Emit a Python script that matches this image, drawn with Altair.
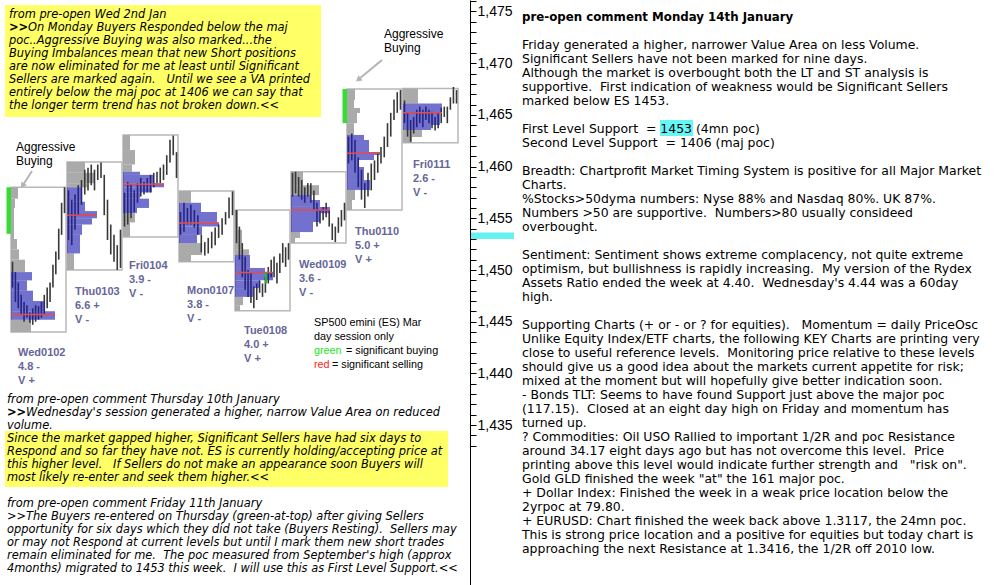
import re
import altair as alt
import pandas as pd

# ---------------- values ----------------
days = ["Wed0102", "Thu0103", "Fri0104", "Mon0107", "Tue0108", "Wed0109", "Thu0110", "Fri0111"]
day_low = [1444.0, 1450.0, 1453.2, 1450.8, 1446.05, 1452.6, 1455.8, 1462.3]
day_high = [1458.0, 1460.45, 1463.05, 1457.65, 1455.8, 1459.5, 1467.5, 1467.55]
poc_price = [1445.7, 1455.3, 1458.3, 1454.55, 1449.75, 1455.8, 1461.3, 1465.2]
va_low = [1445.2, 1451.6, 1455.5, 1452.6, 1447.4, 1453.67, 1457.74, 1463.54]
va_high = [1449.8, 1458.0, 1459.5, 1456.5, 1451.45, 1457.25, 1463.06, 1466.1]
range_txt = ["4.8 -", "6.6 +", "3.9 -", "3.8 -", "4.0 +", "3.6 -", "5.0 +", "2.6 -"]
vol_txt = ["V +", "V -", "V -", "V -", "V +", "V -", "V +", "V -"]

# profile segments per day: (low, high, width in TPO slots)
profiles = [
    [(1456.9, 1458.0, 7), (1456.0, 1456.9, 4), (1453.0, 1456.0, 3), (1452.0, 1453.0, 6), (1451.0, 1452.0, 8),
     (1449.8, 1451.0, 14), (1449.0, 1449.8, 21), (1448.0, 1449.0, 16), (1447.0, 1448.0, 22), (1446.0, 1447.0, 34),
     (1445.2, 1446.0, 44), (1444.0, 1445.2, 20)],
    [(1459.4, 1460.45, 18), (1458.4, 1459.4, 27), (1458.0, 1458.4, 20), (1456.6, 1458.0, 15), (1455.7, 1456.6, 18),
     (1455.0, 1455.7, 30), (1454.4, 1455.0, 25), (1453.4, 1454.4, 15), (1451.6, 1453.4, 13), (1450.0, 1451.6, 7)],
    [(1461.6, 1463.05, 7), (1460.2, 1461.6, 12), (1459.5, 1460.2, 9), (1459.2, 1459.5, 17), (1458.4, 1459.2, 31),
     (1458.0, 1458.4, 41), (1457.5, 1458.0, 29), (1456.9, 1457.5, 17), (1456.0, 1456.9, 26), (1455.5, 1456.0, 14),
     (1454.6, 1455.5, 12), (1453.2, 1454.6, 7)],
    [(1456.5, 1457.65, 12), (1455.6, 1456.5, 22), (1454.6, 1455.6, 38), (1454.2, 1454.6, 40), (1453.4, 1454.2, 23),
     (1452.6, 1453.4, 18), (1451.45, 1452.6, 23), (1450.8, 1451.45, 12)],
    [(1453.9, 1455.8, 3), (1452.0, 1453.9, 7), (1451.45, 1452.0, 14), (1450.2, 1451.45, 15), (1449.8, 1450.2, 30),
     (1449.0, 1449.8, 38), (1448.25, 1449.0, 25), (1447.4, 1448.25, 18), (1446.6, 1447.4, 8), (1446.05, 1446.6, 5)],
    [(1458.2, 1459.5, 12), (1457.25, 1458.2, 28), (1456.77, 1457.25, 20), (1456.1, 1456.77, 29), (1455.5, 1456.1, 39),
     (1454.64, 1455.5, 29), (1453.67, 1454.64, 22), (1453.1, 1453.67, 9), (1452.6, 1453.1, 4)],
    [(1466.44, 1467.5, 8), (1465.67, 1466.44, 7), (1465.18, 1465.67, 13), (1464.2, 1465.18, 10), (1463.06, 1464.2, 7),
     (1462.57, 1463.06, 17), (1461.41, 1462.57, 22), (1461.12, 1461.41, 33), (1460.64, 1461.12, 27),
     (1459.96, 1460.64, 12), (1458.7, 1459.96, 17), (1457.74, 1458.7, 23), (1456.77, 1457.74, 8), (1455.8, 1456.77, 5)],
    [(1466.1, 1467.55, 15), (1465.18, 1466.1, 39), (1464.02, 1465.18, 37), (1463.54, 1464.02, 28),
     (1462.86, 1463.54, 19), (1462.3, 1462.86, 9)],
]

# intraday price bars per day: (low, high)
price_bars = [
    [(1448.3, 1450.8), (1446.9, 1449.8), (1446.3, 1448.8), (1445.7, 1447.6), (1445.0, 1446.9), (1445.4, 1446.6),
     (1444.9, 1445.9), (1444.7, 1446.3), (1445.0, 1446.6), (1445.2, 1446.5), (1445.4, 1446.9), (1445.7, 1447.6),
     (1446.3, 1448.3), (1446.9, 1448.8), (1448.3, 1450.5), (1449.6, 1451.8), (1451.0, 1454.0), (1453.4, 1456.5),
     (1455.5, 1458.0)],
    [(1452.9, 1457.7), (1452.4, 1456.8), (1453.9, 1457.3), (1455.3, 1458.2), (1456.3, 1458.7), (1457.3, 1459.7),
     (1457.7, 1459.9), (1458.2, 1460.2), (1457.7, 1459.7), (1458.7, 1460.2), (1458.9, 1460.4), (1455.3, 1459.2),
     (1452.9, 1456.8), (1451.5, 1454.4), (1450.8, 1453.4), (1450.0, 1452.4), (1450.2, 1453.9)],
    [(1454.2, 1457.5), (1454.4, 1458.5), (1455.0, 1458.3), (1455.6, 1457.7), (1456.5, 1458.4), (1457.1, 1458.9),
     (1457.3, 1458.5), (1457.5, 1458.9), (1457.5, 1459.2), (1458.0, 1459.4), (1458.4, 1459.5), (1458.4, 1459.9),
     (1458.7, 1460.2), (1459.2, 1461.1), (1460.4, 1462.6), (1461.1, 1463.0), (1458.9, 1461.4)],
    [(1453.4, 1455.6), (1453.7, 1456.5), (1454.4, 1456.0), (1454.4, 1456.3), (1454.1, 1455.8), (1453.4, 1455.3),
     (1451.7, 1453.4), (1451.4, 1452.7), (1451.6, 1453.1), (1452.1, 1453.7), (1452.4, 1454.1), (1453.1, 1454.4),
     (1453.4, 1455.0), (1454.4, 1455.6), (1455.0, 1457.0), (1455.3, 1457.6)],
    [(1452.6, 1455.8), (1451.0, 1454.2), (1449.3, 1452.6), (1448.1, 1451.3), (1447.4, 1450.0), (1446.8, 1449.7),
     (1446.3, 1448.4), (1447.1, 1448.7), (1447.8, 1449.0), (1447.4, 1448.7), (1447.8, 1449.3), (1448.7, 1450.3),
     (1449.3, 1451.0), (1449.3, 1451.3), (1448.7, 1450.7), (1449.7, 1451.6), (1450.7, 1452.6), (1450.3, 1452.2),
     (1451.0, 1452.6)],
    [(1457.1, 1459.4), (1457.4, 1459.5), (1457.1, 1459.0), (1456.8, 1458.7), (1456.5, 1458.0), (1457.1, 1458.4),
     (1456.5, 1458.4), (1455.8, 1457.7), (1454.2, 1456.5), (1454.5, 1455.8), (1454.8, 1456.1), (1455.1, 1456.5),
     (1454.2, 1455.8), (1452.9, 1454.5), (1452.7, 1454.2), (1453.6, 1455.1), (1454.2, 1455.8), (1454.8, 1456.5)],
    [(1460.3, 1462.9), (1460.6, 1463.2), (1459.4, 1462.6), (1458.0, 1460.9), (1456.8, 1459.7), (1456.0, 1458.4),
     (1457.1, 1459.4), (1457.7, 1460.3), (1458.7, 1460.6), (1459.4, 1461.3), (1460.3, 1461.9), (1460.9, 1462.9),
     (1461.9, 1464.2), (1462.9, 1465.2), (1464.5, 1466.5), (1465.2, 1467.2), (1465.5, 1467.4)],
    [(1464.2, 1466.4), (1462.9, 1465.2), (1462.4, 1464.5), (1463.2, 1464.8), (1463.8, 1465.5), (1464.2, 1465.8),
     (1463.8, 1465.5), (1464.5, 1465.8), (1464.2, 1465.5), (1463.7, 1465.3), (1463.5, 1464.8), (1463.7, 1465.2),
     (1464.2, 1465.7), (1464.8, 1465.8), (1464.2, 1465.8), (1465.5, 1466.7), (1466.1, 1467.7), (1466.1, 1467.4)],
]

aggr_day = ["Wed0102", "Thu0110"]
aggr_low = [1453.5, 1464.2]
aggr_high = [1458.0, 1467.5]
sig_buy_day = "Tue0108"
sig_buy_low, sig_buy_high = 1448.7, 1449.8
support_low, support_high = 1453.0, 1453.62

top_note = [
    "from pre-open Wed 2nd Jan",
    "",
    "poc..Aggressive Buying was also marked...the",
    "Buying Imbalances mean that new Short positions",
    "are now eliminated for me at least until Significant",
    "Sellers are marked again.   Until we see a VA printed",
    "entirely below the maj poc at 1406 we can say that",
    "the longer term trend has not broken down.<<",
]
top_note_bold = ">>"
top_note_rest = "On Monday Buyers Responded below the maj"

low_note = [
    "from pre-open comment Thursday 10th January",
    "",
    "volume.",
    "Since the market gapped higher, Significant Sellers have had six days to",
    "Respond and so far they have not. ES is currently holding/accepting price at",
    "this higher level.   If Sellers do not make an appearance soon Buyers will",
    "most likely re-enter and seek them higher.<<",
    "",
    "from pre-open comment Friday 11th January",
    ">>The Buyers re-entered on Thursday (green-at-top) after giving Sellers",
    "opportunity for six days which they did not take (Buyers Resting).  Sellers may",
    "or may not Respond at current levels but until I mark them new short trades",
    "remain eliminated for me.  The poc measured from September's high (approx",
    "4months) migrated to 1453 this week.  I will use this as First Level Support.<<",
]
low_note_bold = ">>"
low_note_rest = "Wednesday's session generated a higher, narrow Value Area on reduced"

right_title = "pre-open comment Monday 14th January"
right_text = [
    "", "",
    "Friday generated a higher, narrower Value Area on less Volume.",
    "Significant Sellers have not been marked for nine days.",
    "Although the market is overbought both the LT and ST analysis is",
    "supportive.  First indication of weakness would be Significant Sellers",
    "marked below ES 1453.",
    "",
    "First Level Support  = 1453 (4mn poc)",
    "Second Level Support  = 1406 (maj poc)",
    "",
    "Breadth: Chartprofit Market Timing System is positive for all Major Market",
    "Charts.",
    "%Stocks>50dyma numbers: Nyse 88% and Nasdaq 80%. UK 87%.",
    "Numbers >50 are supportive.  Numbers>80 usually consideed",
    "overbought.",
    "",
    "Sentiment: Sentiment shows extreme complacency, not quite extreme",
    "optimism, but bullishness is rapidly increasing.  My version of the Rydex",
    "Assets Ratio ended the week at 4.40.  Wednesday's 4.44 was a 60day",
    "high.",
    "",
    "Supporting Charts (+ or - or ? for equities).   Momentum = daily PriceOsc",
    "Unlike Equity Index/ETF charts, the following KEY Charts are printing very",
    "close to useful reference levels.  Monitoring price relative to these levels",
    "should give us a good idea about the markets current appetite for risk;",
    "mixed at the moment but will hopefully give better indication soon.",
    "- Bonds TLT: Seems to have found Support just above the major poc",
    "(117.15).  Closed at an eight day high on Friday and momentum has",
    "turned up.",
    "? Commodities: Oil USO Rallied to important 1/2R and poc Resistance",
    "around 34.17 eight days ago but has not overcome this level.  Price",
    "printing above this level would indicate further strength and   \"risk on\".",
    "Gold GLD finished the week \"at\" the 161 major poc.",
    "+ Dollar Index: Finished the week in a weak price location below the",
    "2yrpoc at 79.80.",
    "+ EURUSD: Chart finished the week back above 1.3117, the 24mn poc.",
    "This is strong price location and a positive for equities but today chart is",
    "approaching the next Resistance at 1.3416, the 1/2R off 2010 low.",
]

# ---------------- layout / style ----------------
W, H = 995, 585
Y_MIN, Y_MAX = 1419.54, 1476.11
PX_PER_PT = H / (Y_MAX - Y_MIN)
X_FIRST, X_STEP, BOX_W = 11, 56, 55
label_dx = [7, 8, 6, 8, 9, 8, 8, 10]
label_gap = [24, 25, 32, 32, 23, 25, 25, 25]
BODY = "DejaVu Sans"
SANS = "Liberation Sans"


def keep(s):
    return re.sub(r" {2,}", lambda m: "\u00a0" * (len(m.group()) - 1) + " ", s)


xs = alt.Scale(domain=[0, W], nice=False, zero=False)
ys = alt.Scale(domain=[Y_MIN, Y_MAX], nice=False, zero=False)
yaxis = alt.Axis(
    orient="right", offset=-(W - 470), values=list(range(1433, 1477)),
    labelExpr="datum.value % 5 === 0 ? format(datum.value, ',') : ''",
    tickSize=6, tickColor="black", tickWidth=1, domainColor="black", domainWidth=1,
    labelColor="black", labelFont=SANS, labelFontSize=14, labelPadding=1,
    labelOverlap=False, labelFlush=False, grid=False, title=None,
)


def X(f):
    return alt.X(f"{f}:Q", scale=xs, axis=None)


def Y(f):
    return alt.Y(f"{f}:Q", scale=ys, axis=yaxis)


# ---------------- tables ----------------
box_df = pd.DataFrame({
    "day": days,
    "x": [X_FIRST + X_STEP * i for i in range(len(days))],
    "x2": [X_FIRST + X_STEP * i + BOX_W for i in range(len(days))],
    "lo": day_low, "hi": day_high,
})

prof_rows, poc_rows, bar_rows, lab_rows = [], [], [], []
for i, d in enumerate(days):
    x0 = X_FIRST + X_STEP * i
    for lo, hi, w in profiles[i]:
        mid = (lo + hi) / 2
        prof_rows.append({"day": d, "x": x0, "x2": x0 + w, "lo": lo, "hi": hi,
                          "va": bool(va_low[i] <= mid <= va_high[i])})
        if lo <= poc_price[i] <= hi:
            poc_rows.append({"day": d, "x": x0, "x2": x0 + w, "p": poc_price[i]})
    n = len(price_bars[i])
    for k, (lo, hi) in enumerate(price_bars[i]):
        bar_rows.append({"day": d, "x": x0 + 1.5 + k * (BOX_W - 3) / (n - 1), "lo": lo, "hi": hi})
    for j, txt in enumerate((d, range_txt[i], vol_txt[i])):
        lab_rows.append({"x": x0 + label_dx[i],
                         "y": day_low[i] - (label_gap[i] + 14 * j) / PX_PER_PT,
                         "t": txt})
prof_df = pd.DataFrame(prof_rows)
poc_df = pd.DataFrame(poc_rows)
bar_df = pd.DataFrame(bar_rows)
lab_df = pd.DataFrame(lab_rows)

aggr_df = pd.DataFrame({
    "x": [X_FIRST + X_STEP * days.index(d) - 4.5 for d in aggr_day],
    "x2": [X_FIRST + X_STEP * days.index(d) for d in aggr_day],
    "lo": aggr_low, "hi": aggr_high,
})
ti = days.index(sig_buy_day)
sig_df = pd.DataFrame({"x": [X_FIRST + X_STEP * ti + 31], "lo": [sig_buy_low], "hi": [sig_buy_high]})
support_df = pd.DataFrame({"lo": [support_low], "hi": [support_high]})
one = pd.DataFrame({"k": [0]})


def rect_px(x, x2, y, y2, color):
    return alt.Chart(one).mark_rect(color=color).encode(
        x=alt.value(x), x2=alt.value(x2), y=alt.value(y), y2=alt.value(y2))


def text_px(text, x, y, size, font=BODY, lh=None, color="black", **kw):
    if isinstance(text, list):
        text = [keep(t) for t in text]
        if len(text) == 1:
            text = text[0]
    else:
        text = keep(text)
    props = dict(align="left", baseline="alphabetic", font=font, fontSize=size,
                 color=color, text=text, **kw)
    if lh is not None:
        props["lineHeight"] = lh
    return alt.Chart(one).mark_text(**props).encode(x=alt.value(x), y=alt.value(y))


def block(lines, x, y0, size, lh, **kw):
    """Split a list of lines into paragraphs at blank lines; one text mark per paragraph."""
    out, run, start = [], [], None
    for k, ln in enumerate(lines + [""]):
        if ln == "":
            if run:
                out.append(text_px(run, x, y0 + start * lh, size, lh=lh, **kw))
            run, start = [], None
        else:
            if start is None:
                start = k
            run.append(ln)
    return out


layers = []
# yellow note backgrounds
layers.append(rect_px(5, 321, 5, 117, "#ffff66"))
layers.append(rect_px(5, 448, 431, 487, "#ffff66"))
# support level band at the axis
layers.append(alt.Chart(support_df).mark_rect(color="#66f2f2").encode(
    x=alt.value(471), x2=alt.value(514), y=Y("lo"), y2=alt.Y2("hi")))
# day boxes
layers.append(alt.Chart(box_df).mark_rect(fillOpacity=0, stroke="#b8b8b8", strokeWidth=1.5).encode(
    x=X("x"), x2=alt.X2("x2"), y=Y("lo"), y2=alt.Y2("hi")))
# grey profile outside value area
layers.append(alt.Chart(prof_df).transform_filter("!datum.va").mark_rect(color="#aaaaaa").encode(
    x=X("x"), x2=alt.X2("x2"), y=Y("lo"), y2=alt.Y2("hi")))
# aggressive buying marks
layers.append(alt.Chart(aggr_df).mark_rect(color="#33dd33").encode(
    x=X("x"), x2=alt.X2("x2"), y=Y("lo"), y2=alt.Y2("hi")))
# price bars
layers.append(alt.Chart(bar_df).mark_rule(color="#383838", strokeWidth=1.6).encode(
    x=X("x"), y=Y("lo"), y2=alt.Y2("hi")))
# value area overlay
layers.append(alt.Chart(prof_df).transform_filter("datum.va").mark_rect(color="#1c1cb0", opacity=0.62).encode(
    x=X("x"), x2=alt.X2("x2"), y=Y("lo"), y2=alt.Y2("hi")))
# poc
layers.append(alt.Chart(poc_df).mark_rule(color="#e84848", strokeWidth=1.5).encode(
    x=X("x"), x2=alt.X2("x2"), y=Y("p")))
# significant buying tick
layers.append(alt.Chart(sig_df).mark_rule(color="#22bb22", strokeWidth=2).encode(
    x=X("x"), y=Y("lo"), y2=alt.Y2("hi")))
# day labels
layers.append(alt.Chart(lab_df).mark_text(
    align="left", baseline="alphabetic", font=SANS, fontSize=11, fontWeight="bold", color="#666699").encode(
    x=X("x"), y=Y("y"), text="t:N"))

# legend
layers.append(text_px(["SP500 emini (ES) Mar", "day session only"], 314, 326, 10.8, font=SANS, lh=14))
layers.append(text_px("green", 314, 354, 10.8, font=SANS, color="#22e622"))
layers.append(text_px("= significant buying", 346, 354, 10.8, font=SANS))
layers.append(text_px("red", 314, 368, 10.8, font=SANS, color="#ff2222"))
layers.append(text_px("= significant selling", 332, 368, 10.8, font=SANS))

# aggressive buying annotations
layers.append(text_px(["Aggressive", "Buying"], 16, 151, 12, font=SANS, lh=13.5))
layers.append(text_px(["Aggressive", "Buying"], 384, 38, 12, font=SANS, lh=13.5))
for (x1, y1, x2, y2, ang) in ((32, 171, 23, 185, 213.7), (382, 60, 359, 79, 230.8)):
    layers.append(alt.Chart(one).mark_rule(color="#b4b4b4", strokeWidth=2).encode(
        x=alt.value(x1), y=alt.value(y1), x2=alt.value(x2), y2=alt.value(y2)))
    layers.append(alt.Chart(one).mark_point(shape="triangle", filled=True, size=45, angle=ang,
                                            color="#b4b4b4", opacity=1).encode(
        x=alt.value(x2), y=alt.value(y2)))

# left notes
layers += block(top_note, 9, 18.3, 11.4, 13, fontStyle="italic")
layers.append(text_px(top_note_bold, 9, 31.3, 11.4, fontWeight="bold"))
layers.append(text_px(top_note_rest, 28, 31.3, 11.4, fontStyle="italic"))
layers += block(low_note, 7, 403, 11.4, 13, fontStyle="italic")
layers.append(text_px(low_note_bold, 7, 416, 11.4, fontWeight="bold"))
layers.append(text_px(low_note_rest, 26, 416, 11.4, fontStyle="italic"))

# right commentary
layers.append(rect_px(660, 693, 120, 136, "#66f6f6"))
layers.append(text_px(right_title, 522, 20.7, 11.8, fontWeight="bold"))
layers += block(right_text, 522, 20.7, 12.45, 14)

chart = alt.layer(*layers).properties(
    width=W, height=H, autosize=alt.AutoSizeParams(type="none"), padding=0, background="white"
).configure_view(strokeWidth=0)

chart.save("out.html", embed_options={"renderer": "svg", "actions": False})
